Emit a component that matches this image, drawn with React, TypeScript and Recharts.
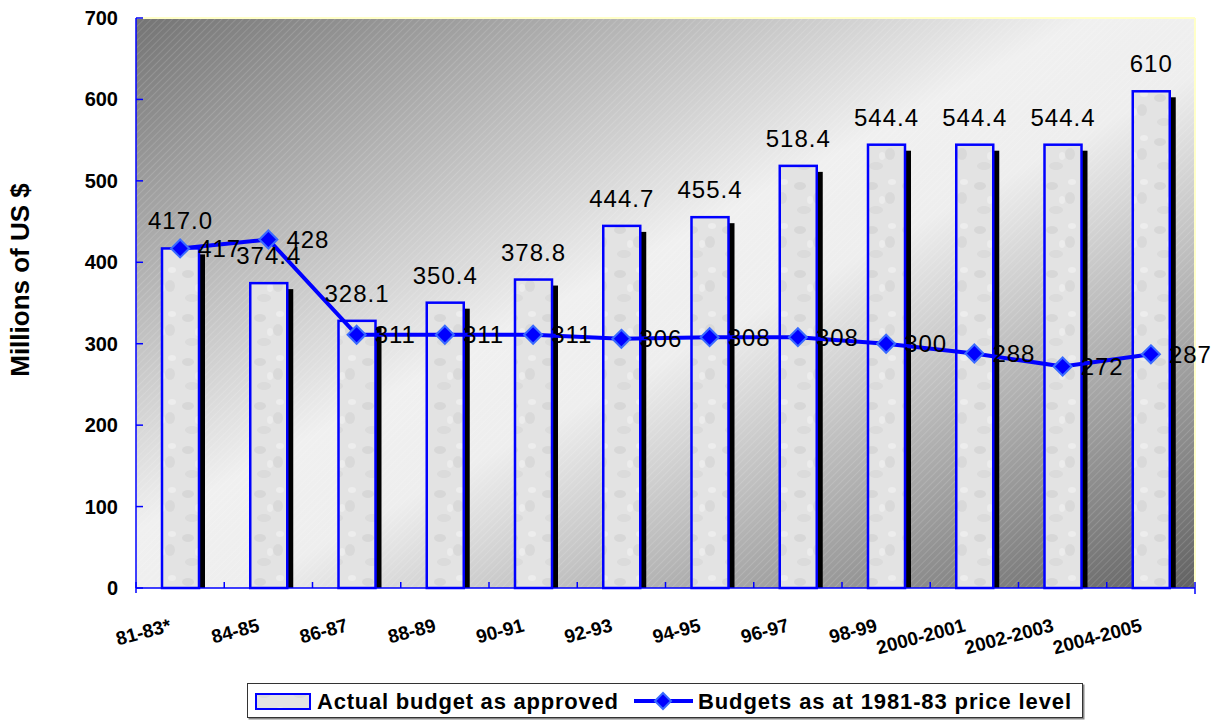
import React from "react";
import { ComposedChart, Bar, Line, XAxis, YAxis, CartesianGrid, LabelList } from "recharts";

const periods = [
  "81-83*",
  "84-85",
  "86-87",
  "88-89",
  "90-91",
  "92-93",
  "94-95",
  "96-97",
  "98-99",
  "2000-2001",
  "2002-2003",
  "2004-2005",
];
const actualBudget = [417.0, 374.4, 328.1, 350.4, 378.8, 444.7, 455.4, 518.4, 544.4, 544.4, 544.4, 610];
const actualLabels = ["417.0", "374.4", "328.1", "350.4", "378.8", "444.7", "455.4", "518.4", "544.4", "544.4", "544.4", "610"];
const constantBudget = [417, 428, 311, 311, 311, 306, 308, 308, 300, 288, 272, 287];
const yTicks = [0, 100, 200, 300, 400, 500, 600, 700];

const data = periods.map((p, i) => ({
  period: p,
  actual: actualBudget[i],
  actualLabel: actualLabels[i],
  constant: constantBudget[i],
}));

const W = 1215;
const H = 722;
const PLOT_LEFT = 136;
const PLOT_RIGHT = 20;
const BAND = (W - PLOT_LEFT - PLOT_RIGHT) / periods.length;
const FONT = "Arial, 'Liberation Sans', sans-serif";
const BLUE = "#0000ff";

const ShadowBar = (props: any) => {
  const { x, y, width, height } = props;
  if (!height) return null;
  return (
    <g>
      <rect x={x + 6} y={y + 6} width={width} height={Math.max(height - 6, 0)} fill="#000" />
      <rect x={x} y={y} width={width} height={height} fill="url(#barTex)" stroke={BLUE} strokeWidth={2.5} />
    </g>
  );
};

const Diamond = (props: any) => {
  const { cx, cy } = props;
  if (cx == null || cy == null) return null;
  const r = 9;
  return (
    <polygon
      points={`${cx},${cy - r} ${cx + r},${cy} ${cx},${cy + r} ${cx - r},${cy}`}
      fill={BLUE}
      stroke="#3a6bff"
      strokeWidth={2}
    />
  );
};

const BarValue = (props: any) => {
  const { x, y, width, value } = props;
  return (
    <text x={x + width / 2} y={y - 19} textAnchor="middle" fontFamily={FONT} fontSize={24} letterSpacing={1} fill="#000">
      {value}
    </text>
  );
};

const LineValue = (props: any) => {
  const { x, y, value } = props;
  return (
    <text x={x + 18} y={y} dominantBaseline="central" fontFamily={FONT} fontSize={24} letterSpacing={1} fill="#000">
      {value}
    </text>
  );
};

const YTick = (props: any) => {
  const { x, y, payload } = props;
  return (
    <g>
      <line x1={x + 18} x2={x + 25} y1={y} y2={y} stroke={BLUE} strokeWidth={1.5} />
      <text x={x} y={y} textAnchor="end" dominantBaseline="central" fontFamily={FONT} fontWeight="bold" fontSize={20} fill="#000">
        {payload.value}
      </text>
    </g>
  );
};

const XTick = (props: any) => {
  const { x, y, payload, index } = props;
  const left = x - BAND / 2;
  const right = x + BAND / 2;
  const last = index === periods.length - 1;
  return (
    <g>
      <line x1={left} x2={left} y1={y - 6} y2={index === 0 ? y + 5 : y} stroke={BLUE} strokeWidth={1.5} />
      {last && <line x1={right} x2={right} y1={y - 6} y2={y + 6} stroke={BLUE} strokeWidth={1.5} />}
      <text
        x={x - 8}
        y={y + 43}
        textAnchor="end"
        transform={`rotate(-15, ${x - 8}, ${y + 43})`}
        fontFamily={FONT}
        fontWeight="bold"
        fontSize={19}
        fill="#000"
      >
        {payload.value}
      </text>
    </g>
  );
};

const YLabel = () => (
  <text
    x={20}
    y={280}
    transform="rotate(-90, 20, 280)"
    textAnchor="middle"
    dominantBaseline="central"
    fontFamily={FONT}
    fontWeight="bold"
    fontSize={26}
    fill="#000"
  >
    Millions of US $
  </text>
);

function ChartLegend() {
  const dx = 663;
  const dy = 701;
  return (
    <svg width={W} height={H} style={{ position: "absolute", left: 0, top: 0, pointerEvents: "none" }}>
      <rect x={248.5} y={684.5} width={836} height={35} fill="#888" />
      <rect x={247.5} y={683.5} width={835} height={34} fill="#fff" stroke="#333" strokeWidth={1} />
      <rect x={256} y={694} width={54} height={15} fill="url(#barTex)" stroke={BLUE} strokeWidth={2} />
      <text x={317} y={709} fontFamily={FONT} fontWeight="bold" fontSize={22} textLength={301} lengthAdjust="spacing" fill="#000">
        Actual budget as approved
      </text>
      <line x1={634} x2={693} y1={dy} y2={dy} stroke={BLUE} strokeWidth={4} />
      <polygon points={`${dx},${dy - 8} ${dx + 8},${dy} ${dx},${dy + 8} ${dx - 8},${dy}`} fill={BLUE} stroke="#3a6bff" strokeWidth={2} />
      <text x={698} y={709} fontFamily={FONT} fontWeight="bold" fontSize={22} textLength={373} lengthAdjust="spacing" fill="#000">
        Budgets as at 1981-83 price level
      </text>
    </svg>
  );
}

export default function App() {
  return (
    <div style={{ position: "absolute", left: 0, top: 0, width: W, height: H, background: "#fff" }}>
      <ComposedChart width={W} height={H} data={data} margin={{ top: 18, right: PLOT_RIGHT, left: 0, bottom: 0 }} barSize={37}>
        <defs>
          <linearGradient id="plotBg" x1="0" y1="0" x2="1" y2="1">
            <stop offset="0" stopColor="#747474" />
            <stop offset="0.45" stopColor="#f0f0f0" />
            <stop offset="0.55" stopColor="#eeeeee" />
            <stop offset="1" stopColor="#626262" />
          </linearGradient>
          <pattern id="hatch" patternUnits="userSpaceOnUse" width={5} height={5} patternTransform="rotate(45)">
            <line x1={0} y1={0} x2={0} y2={5} stroke="#ffffff" strokeOpacity={0.22} strokeWidth={1.2} />
          </pattern>
          <pattern id="barTex" patternUnits="userSpaceOnUse" width={36} height={44}>
            <rect width={36} height={44} fill="#e3e3e3" />
            <ellipse cx={8} cy={10} rx={6} ry={4} fill="#cfcfcf" opacity={0.6} />
            <ellipse cx={26} cy={22} rx={5} ry={6} fill="#d2d2d2" opacity={0.6} />
            <ellipse cx={12} cy={34} rx={7} ry={4} fill="#d6d6d6" opacity={0.6} />
            <ellipse cx={28} cy={6} rx={4} ry={3} fill="#f2f2f2" opacity={0.7} />
            <ellipse cx={18} cy={24} rx={3} ry={4} fill="#f0f0f0" opacity={0.7} />
          </pattern>
        </defs>
        <CartesianGrid horizontal={false} vertical={false} fill="url(#plotBg)" fillOpacity={1} />
        <CartesianGrid horizontal={false} vertical={false} fill="url(#hatch)" fillOpacity={1} />
        <XAxis
          dataKey="period"
          height={H - 588}
          axisLine={{ stroke: BLUE, strokeWidth: 1.5 }}
          tickLine={false}
          tickSize={0}
          tickMargin={0}
          interval={0}
          tick={<XTick />}
        />
        <YAxis
          domain={[0, 700]}
          ticks={yTicks}
          width={PLOT_LEFT}
          axisLine={{ stroke: BLUE, strokeWidth: 1.5 }}
          tickLine={false}
          tickSize={0}
          tickMargin={18}
          interval={0}
          tick={<YTick />}
          label={<YLabel />}
        />
        <Bar dataKey="actual" name="Actual budget as approved" shape={<ShadowBar />} isAnimationActive={false}>
          <LabelList dataKey="actualLabel" content={<BarValue />} />
        </Bar>
        <Line
          dataKey="constant"
          name="Budgets as at 1981-83 price level"
          type="linear"
          stroke={BLUE}
          strokeWidth={4}
          dot={<Diamond />}
          activeDot={false}
          isAnimationActive={false}
        >
          <LabelList dataKey="constant" content={<LineValue />} />
        </Line>
        <line x1={PLOT_LEFT} x2={W - PLOT_RIGHT} y1={18} y2={18} stroke="#ffffc8" strokeWidth={2} />
        <line x1={W - PLOT_RIGHT} x2={W - PLOT_RIGHT} y1={18} y2={588} stroke="#ffffc8" strokeWidth={2} />
      </ComposedChart>
      <ChartLegend />
    </div>
  );
}
